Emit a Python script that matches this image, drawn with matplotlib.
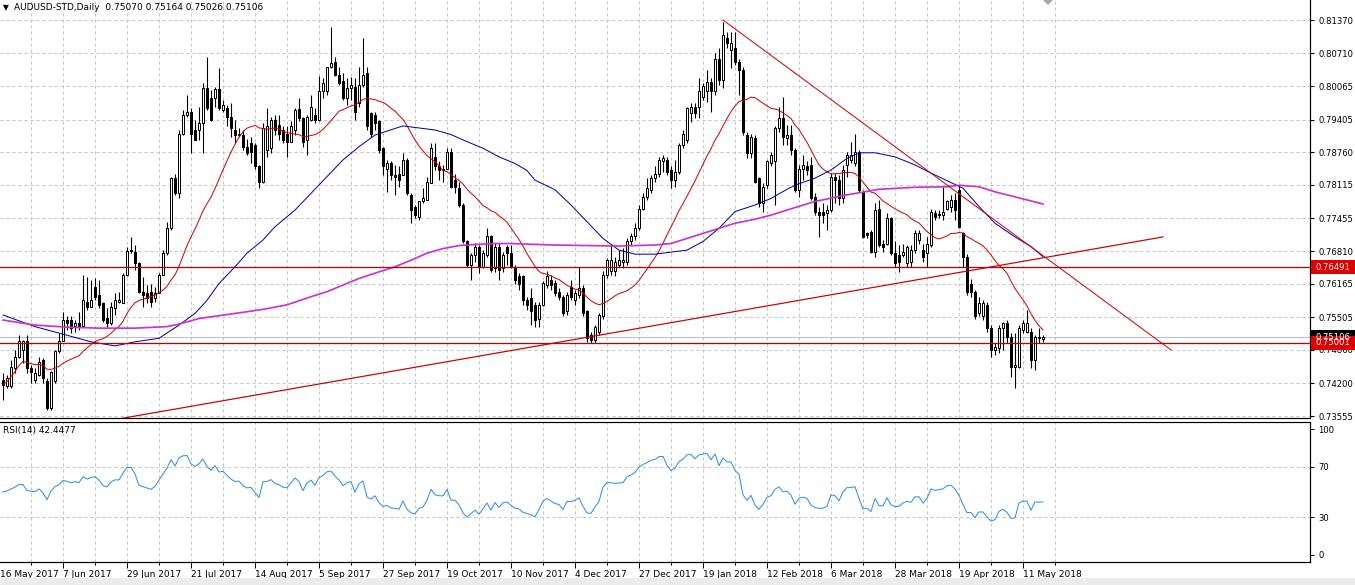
import numpy as np
import pandas as pd
import matplotlib
matplotlib.use("Agg")
import matplotlib.pyplot as plt
import matplotlib.transforms as mtrans
from matplotlib.patches import Rectangle, Polygon

# AUDUSD daily bars (bar 0 = first visible candle)
opens = [
    .7427, .7414, .7414, .7450, .7473, .7486, .7503, .7450, .7427, .7437,
    .7466, .7424, .7371, .7424, .7483, .7503, .7545, .7545, .7533, .7539,
    .7533, .7581, .7571, .7611, .7594, .7578, .7549, .7539, .7568, .7581,
    .7578, .7634, .7682, .7680, .7657, .7601, .7598, .7601, .7588, .7598,
    .7634, .7677, .7726, .7825, .7795, .7913, .7950, .7956, .7920, .7920,
    .7933, .8002, .7983, .7983, .8000, .7959, .7963, .7946, .7920, .7910,
    .7910, .7887, .7894, .7890, .7848, .7818, .7880, .7884, .7940, .7930,
    .7920, .7913, .7897, .7920, .7961, .7943, .7900, .7940, .7950, .7940,
    .7996, .7996, .8045, .8055, .8029, .8016, .7983, .8002, .8005, .7973,
    .8009, .8032, .7953, .7950, .7937, .7884, .7844, .7854, .7831, .7834,
    .7831, .7861, .7792, .7769, .7749, .7779, .7782, .7815, .7867, .7848,
    .7844, .7844, .7877, .7821, .7805, .7772, .7700, .7654, .7673, .7690,
    .7650, .7673, .7710, .7647, .7690, .7647, .7690, .7677, .7650, .7631,
    .7631, .7585, .7588, .7575, .7548, .7575, .7614, .7624, .7618, .7601,
    .7591, .7562, .7611, .7585, .7594, .7608, .7562, .7516, .7506, .7522,
    .7552, .7634, .7641, .7641, .7654, .7660, .7660, .7700, .7710, .7726,
    .7765, .7788, .7802, .7825, .7834, .7858, .7861, .7841, .7821, .7838,
    .7890, .7900, .7953, .7966, .7966, .7986, .7996, .8015, .7996, .8061,
    .8019, .8101, .8078, .8081, .8055, .8038, .7910, .7874, .7904, .7825,
    .7775, .7812, .7854, .7858, .7923, .7943, .7904, .7910, .7880, .7802,
    .7844, .7848, .7851, .7788, .7759, .7759, .7756, .7762, .7828, .7821,
    .7785, .7851, .7861, .7854, .7877, .7798, .7716, .7719, .7680, .7765,
    .7696, .7696, .7746, .7677, .7673, .7673, .7657, .7660, .7683, .7703,
    .7683, .7677, .7693, .7756, .7752, .7752, .7765, .7769, .7782, .7802,
    .7716, .7670, .7617, .7601, .7558, .7552, .7575, .7529, .7486, .7489,
    .7529, .7539, .7512, .7453, .7453, .7525, .7522, .7522, .7466, .7512, .75070,
]
highs = [
    .7440, .7437, .7467, .7486, .7516, .7506, .7516, .7457, .7450, .7473,
    .7470, .7430, .7444, .7486, .7519, .7561, .7552, .7552, .7545, .7561,
    .7634, .7630, .7624, .7627, .7624, .7581, .7568, .7581, .7598, .7601,
    .7637, .7690, .7709, .7693, .7660, .7630, .7614, .7617, .7611, .7637,
    .7683, .7739, .7828, .7834, .7920, .7959, .7989, .7963, .7940, .7966,
    .8012, .8065, .7999, .8005, .8042, .7979, .7969, .7973, .7940, .7923,
    .7920, .7903, .7907, .7894, .7851, .7933, .7963, .7946, .7950, .7950,
    .7927, .7927, .7937, .7963, .7983, .7946, .7950, .7990, .7963, .8026,
    .8022, .8045, .8124, .8065, .8045, .8032, .8022, .8025, .8022, .8045,
    .8101, .8045, .7956, .7956, .7940, .7887, .7861, .7858, .7851, .7848,
    .7874, .7864, .7795, .7772, .7779, .7805, .7828, .7894, .7894, .7858,
    .7851, .7884, .7884, .7834, .7818, .7776, .7703, .7677, .7697, .7693,
    .7683, .7726, .7713, .7697, .7697, .7680, .7693, .7693, .7654, .7637,
    .7634, .7591, .7608, .7580, .7580, .7622, .7641, .7634, .7624, .7608,
    .7595, .7601, .7624, .7605, .7650, .7614, .7565, .7522, .7535, .7558,
    .7641, .7667, .7693, .7670, .7683, .7687, .7706, .7716, .7736, .7772,
    .7795, .7825, .7831, .7848, .7867, .7871, .7867, .7848, .7861, .7894,
    .7920, .7966, .7973, .7973, .8022, .8012, .8038, .8022, .8071, .8081,
    .8134, .8114, .8114, .8114, .8061, .8045, .7917, .7913, .7910, .7828,
    .7815, .7861, .7877, .7927, .7966, .7986, .7930, .7930, .7884, .7851,
    .7871, .7858, .7867, .7795, .7769, .7775, .7772, .7835, .7835, .7831,
    .7851, .7877, .7897, .7913, .7880, .7802, .7719, .7723, .7775, .7782,
    .7703, .7756, .7749, .7700, .7693, .7696, .7693, .7693, .7723, .7723,
    .7696, .7709, .7765, .7762, .7762, .7808, .7782, .7792, .7795, .7811,
    .7719, .7675, .7625, .7605, .7590, .7585, .7580, .7535, .7499, .7535,
    .7542, .7545, .7519, .7519, .7535, .7545, .7565, .7529, .7516, .7529, .75164,
]
lows = [
    .7387, .7411, .7411, .7440, .7470, .7460, .7440, .7420, .7420, .7434,
    .7420, .7368, .7368, .7420, .7480, .7503, .7525, .7519, .7522, .7525,
    .7533, .7565, .7571, .7585, .7568, .7542, .7532, .7535, .7555, .7578,
    .7578, .7631, .7677, .7644, .7598, .7571, .7578, .7571, .7581, .7598,
    .7634, .7674, .7723, .7792, .7785, .7910, .7946, .7874, .7900, .7900,
    .7874, .7960, .7937, .7966, .7960, .7956, .7927, .7907, .7894, .7907,
    .7880, .7871, .7854, .7844, .7805, .7815, .7867, .7874, .7910, .7900,
    .7894, .7867, .7897, .7910, .7937, .7887, .7871, .7937, .7933, .7937,
    .7983, .7990, .8042, .8026, .8009, .7980, .7970, .7980, .7940, .7966,
    .8005, .7920, .7907, .7920, .7874, .7831, .7798, .7821, .7792, .7808,
    .7831, .7792, .7736, .7746, .7743, .7776, .7782, .7815, .7841, .7821,
    .7818, .7844, .7805, .7795, .7769, .7697, .7650, .7624, .7660, .7637,
    .7647, .7670, .7640, .7640, .7624, .7640, .7654, .7647, .7617, .7604,
    .7575, .7565, .7535, .7532, .7532, .7572, .7608, .7605, .7592, .7585,
    .7552, .7555, .7585, .7575, .7588, .7552, .7502, .7500, .7500, .7516,
    .7548, .7628, .7634, .7631, .7650, .7647, .7654, .7693, .7703, .7723,
    .7762, .7782, .7795, .7818, .7828, .7838, .7831, .7805, .7808, .7834,
    .7884, .7894, .7936, .7943, .7943, .7980, .7976, .7956, .7990, .8009,
    .8002, .8081, .8042, .8048, .7989, .7910, .7864, .7864, .7815, .7769,
    .7759, .7805, .7848, .7772, .7917, .7890, .7890, .7871, .7798, .7788,
    .7821, .7831, .7782, .7752, .7709, .7736, .7723, .7759, .7775, .7772,
    .7775, .7828, .7854, .7848, .7798, .7706, .7706, .7677, .7670, .7690,
    .7680, .7693, .7673, .7650, .7640, .7670, .7650, .7650, .7677, .7696,
    .7660, .7650, .7690, .7742, .7746, .7742, .7762, .7759, .7742, .7726,
    .7650, .7595, .7590, .7548, .7552, .7545, .7522, .7473, .7476, .7479,
    .7486, .7499, .7433, .7410, .7450, .7519, .7519, .7450, .7446, .7499, .75026,
]
closes = [
    .7417, .7430, .7453, .7473, .7503, .7503, .7450, .7443, .7440, .7463,
    .7430, .7371, .7443, .7483, .7503, .7545, .7539, .7529, .7539, .7533,
    .7585, .7571, .7585, .7591, .7575, .7545, .7539, .7571, .7585, .7585,
    .7634, .7682, .7684, .7657, .7601, .7595, .7588, .7581, .7598, .7634,
    .7677, .7726, .7825, .7795, .7913, .7950, .7956, .7913, .7900, .7933,
    .8002, .7963, .7940, .8000, .7963, .7969, .7946, .7923, .7910, .7913,
    .7887, .7874, .7877, .7848, .7818, .7923, .7927, .7940, .7920, .7913,
    .7900, .7897, .7927, .7959, .7943, .7897, .7946, .7966, .7940, .7996,
    .8012, .8045, .8052, .8029, .8012, .7983, .8002, .8009, .7956, .8009,
    .8029, .7927, .7913, .7933, .7880, .7848, .7854, .7831, .7828, .7821,
    .7861, .7795, .7762, .7752, .7779, .7785, .7818, .7884, .7848, .7841,
    .7841, .7877, .7808, .7808, .7772, .7700, .7654, .7673, .7690, .7650,
    .7677, .7710, .7644, .7690, .7644, .7673, .7677, .7650, .7624, .7617,
    .7585, .7575, .7562, .7545, .7575, .7618, .7631, .7614, .7598, .7591,
    .7558, .7594, .7591, .7598, .7608, .7558, .7509, .7506, .7532, .7555,
    .7634, .7664, .7664, .7660, .7664, .7664, .7700, .7710, .7726, .7765,
    .7788, .7805, .7825, .7834, .7861, .7864, .7838, .7821, .7838, .7890,
    .7913, .7963, .7966, .7953, .7996, .8006, .8015, .7996, .8061, .8019,
    .8107, .8091, .8091, .8055, .8038, .7917, .7874, .7907, .7818, .7775,
    .7808, .7858, .7871, .7923, .7943, .7907, .7910, .7880, .7802, .7844,
    .7851, .7841, .7785, .7759, .7752, .7752, .7762, .7828, .7821, .7785,
    .7841, .7871, .7871, .7877, .7802, .7709, .7713, .7680, .7762, .7693,
    .7690, .7746, .7677, .7657, .7660, .7680, .7690, .7683, .7716, .7716,
    .7670, .7696, .7759, .7749, .7755, .7759, .7779, .7782, .7762, .7729,
    .7670, .7601, .7601, .7552, .7578, .7578, .7529, .7486, .7492, .7529,
    .7539, .7512, .7453, .7456, .7529, .7539, .7539, .7466, .7512, .7509, .75106,
]

# slow moving averages at sample bars
blue_idx = [0, 8, 16, 22, 28, 33, 39, 44, 48, 51, 54, 58, 61, 65, 68, 73, 77, 81, 85, 89,
            93, 98, 100, 103, 108, 112, 116, 120, 124, 128, 131, 133, 138, 142, 146, 150,
            154, 158, 163, 167, 171, 175, 179, 183, 188, 192, 196, 198, 203, 207, 211, 214,
            218, 223, 228, 232, 236, 240, 244, 248, 253, 257, 260]
blue_val = [.7555, .7532, .7515, .7502, .7494, .7502, .7509, .7535, .7558, .7584, .7617, .7650,
            .7677, .7703, .7729, .7762, .7795, .7828, .7861, .7887, .7910, .7923, .7928, .7925,
            .7920, .7911, .7897, .7884, .7867, .7854, .7840, .7821, .7802, .7772, .7739, .7706,
            .7683, .7675, .7675, .7679, .7683, .7700, .7726, .7759, .7772, .7785, .7803, .7811,
            .7825, .7841, .7864, .7875, .7875, .7867, .7851, .7835, .7820, .7805, .7769, .7736,
            .7709, .7690, .7670]
magenta_idx = [0, 8, 16, 24, 33, 41, 44, 49, 58, 65, 71, 77, 81, 85, 89, 94, 98, 102, 106, 110,
               114, 118, 123, 127, 130, 138, 146, 154, 163, 167, 171, 175, 179, 183, 188, 192,
               196, 203, 211, 219, 228, 236, 239, 244, 248, 253, 257, 260]
magenta_val = [.7545, .7535, .7531, .7529, .7529, .7532, .7537, .7548, .7558, .7566, .7575, .7591,
               .7601, .7614, .7627, .7640, .7650, .7663, .7677, .7686, .7692, .7694, .7696, .7696,
               .7695, .7693, .7692, .7691, .7693, .7696, .7706, .7716, .7726, .7736, .7744, .7752,
               .7762, .7779, .7792, .7803, .7807, .7808, .7811, .7808, .7798, .7788, .7780, .7774]

# trend lines (bar, price) and horizontal levels
trend_down = ([180, 292], [0.8137, 0.7486])
trend_up = ([29, 290], [0.7350, 0.7709])
levels = [0.76491, 0.75001]
bid = 0.75106

price_ticks = [0.81370, 0.80710, 0.80065, 0.79405, 0.78760, 0.78115, 0.77455,
               0.76810, 0.76165, 0.75505, 0.74860, 0.74200, 0.73555]
rsi_ticks = [100, 70, 30, 0]
dates = ["16 May 2017", "7 Jun 2017", "29 Jun 2017", "21 Jul 2017", "14 Aug 2017",
         "5 Sep 2017", "27 Sep 2017", "19 Oct 2017", "10 Nov 2017", "4 Dec 2017",
         "27 Dec 2017", "19 Jan 2018", "12 Feb 2018", "6 Mar 2018", "28 Mar 2018",
         "19 Apr 2018", "11 May 2018"]
date_pos = list(range(-1, 16 * len(dates) - 1, 16))

# indicators from closes
cl = pd.Series(closes)
ma20 = cl.rolling(20, min_periods=1).mean()
diff = cl.diff().fillna(0)
seed = diff.iloc[1:15].abs().mean()  # start the averages balanced
gains = diff.clip(lower=0)
losses = (-diff).clip(lower=0)
gains.iloc[0] = seed
losses.iloc[0] = seed
up_avg = gains.ewm(alpha=1 / 14, adjust=False).mean()
dn_avg = losses.ewm(alpha=1 / 14, adjust=False).mean()
rsi = 100 - 100 / (1 + up_avg / dn_avg)

W, H = 1355, 585
PX = 0.72  # one pixel in points
fig = plt.figure(figsize=(W / 100, H / 100), dpi=100)
fig.patch.set_facecolor("white")
plt.rcParams["font.family"] = ["DejaVu Sans"]
fs = 6.5
fs_r = 6.1
grid_kw = dict(color="#c4c4c4", lw=PX, ls=(0, (3, 3)))

right = 1310 / W
ax = fig.add_axes([0, 1 - 418 / H, right, 418 / H])
ax2 = fig.add_axes([0, 1 - 562 / H, right, 140 / H], sharex=ax)

idx = np.arange(len(closes))
o = np.array(opens)
c = np.array(closes)
up = c >= o
ax.vlines(idx, lows, highs, color="black", lw=PX * 1.1, zorder=3)
body_h = np.maximum(np.abs(c - o), 0.00003)
ax.bar(idx, body_h, bottom=np.minimum(o, c), width=0.55,
       color=np.where(up, "white", "black"), edgecolor="black", lw=PX, zorder=4)

ax.plot(idx, ma20, color="#d40000", lw=PX, zorder=5)
ax.plot(blue_idx, blue_val, color="#0000a8", lw=PX, zorder=5)
ax.plot(magenta_idx, magenta_val, color="#cc33cc", lw=PX * 1.7, zorder=5)
ax.plot(*trend_down, color="#d40000", lw=PX, zorder=5)
ax.plot(*trend_up, color="#c80000", lw=PX * 1.2, zorder=5)
ax.axhline(bid, color="#bdbdbd", lw=PX, zorder=2)
for lv in levels:
    ax.axhline(lv, color="#c00000", lw=PX * 1.3, zorder=5)

ax.set_xlim(-0.75, 326.75)
ax.set_ylim(0.73517, 0.81765)
ax.yaxis.tick_right()
ax.set_yticks(price_ticks)
ax.set_yticklabels([f"{p:.5f}" for p in price_ticks])
ax.tick_params(axis="y", direction="out", length=3, width=PX, pad=3, labelsize=fs_r)
ax.tick_params(axis="x", which="both", length=0, labelbottom=False)
ax.set_xticks(date_pos)
ax.set_xticks([p + 8 for p in date_pos], minor=True)
ax.grid(axis="y", **grid_kw)
ax.grid(axis="x", which="both", **grid_kw)
ax.set_axisbelow(True)
for s in ["top", "left"]:
    ax.spines[s].set_visible(False)
for s in ["right", "bottom"]:
    ax.spines[s].set_linewidth(PX * 1.2)

# price boxes on the right scale
blend = mtrans.blended_transform_factory(ax.transAxes, ax.transData)
box_h = 14 / 418 * (0.81765 - 0.73517)
for val, fc in [(bid, "black"), (levels[1], "#e00000"), (levels[0], "#e00000")]:
    ax.add_patch(Rectangle((1311 / 1310, val - box_h / 2), 44 / 1310, box_h, transform=blend,
                           fc=fc, ec="none", clip_on=False, zorder=8))
    ax.text(1316 / 1310, val, f"{val:.5f}", transform=blend, color="white", fontsize=fs_r,
            ha="left", va="center", clip_on=False, zorder=9)

# RSI panel
ax2.plot(idx, rsi, color="#2a8cf0", lw=PX)
ax2.set_ylim(-5.56, 105.56)
ax2.yaxis.tick_right()
ax2.set_yticks(rsi_ticks)
ax2.set_yticklabels([str(v) for v in rsi_ticks])
ax2.tick_params(axis="y", direction="out", length=3, width=PX, pad=3, labelsize=fs_r)
for lv in [70, 30]:
    ax2.axhline(lv, **grid_kw, zorder=0)
ax2.grid(axis="x", which="both", **grid_kw)
ax2.set_axisbelow(True)
ax2.set_xticks(date_pos[1:])
ax2.set_xticklabels(dates[1:], ha="left", fontsize=fs)
ax2.set_xticks([p + 8 for p in date_pos], minor=True)
ax2.tick_params(axis="x", which="major", direction="out", length=4, width=PX, pad=1.5)
ax2.tick_params(axis="x", which="minor", direction="out", length=2, width=PX)
ax2.set_xlim(-0.75, 326.75)
ax2.spines["left"].set_visible(False)
for s in ["right", "bottom", "top"]:
    ax2.spines[s].set_linewidth(PX * 1.2)
# first date label sits at the left edge, its tick just off the chart
ax2.text(0, -8 / 140, dates[0], transform=ax2.transAxes, fontsize=fs, ha="left", va="top")

fig.text(3 / W, 1 - 8 / H, "\u25bc", fontsize=5.5, va="center")
fig.text(14 / W, 1 - 8 / H, "AUDUSD-STD,Daily  0.75070 0.75164 0.75026 0.75106",
         fontsize=fs, va="center")
fig.text(3 / W, 1 - 431 / H, "RSI(14) 42.4477", fontsize=fs, va="center")

fig.add_artist(Polygon([[1043 / W, 1], [1053 / W, 1], [1048 / W, 1 - 5 / H]], closed=True,
                       fc="#a8a8a8", ec="none", transform=fig.transFigure))
fig.add_artist(Rectangle((0, 0), 1, 7 / H, fc="#ececec", ec="none", transform=fig.transFigure))

fig.savefig("out.png", dpi=100)
